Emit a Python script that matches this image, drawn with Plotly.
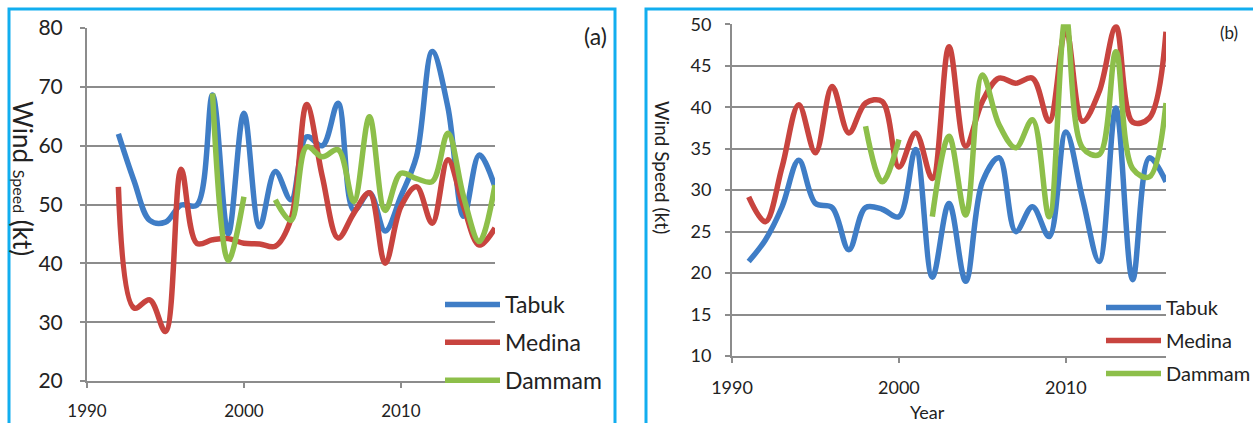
import plotly.graph_objects as go

# ---- data: annual maximum wind speed (kt) ----
years = list(range(1991, 2017))

# panel (a)
years_a = list(range(1992, 2017))
tabuk_a = [62, 54, 47.3, 47, 49.9, 49.9, 68.6, 45, 65.5, 46.2, 55.6, 50.8, 61.5,
           60, 67.2, 49, 52, 45.5, 51.4, 58.2, 76, 66.5, 48, 58.4, 53]
medina_a = [53, 32.4, 33.8, 28.4, 56, 43.4, 44, 44.2, 43.4, 43.3, 42.9, 47.5, 67,
            54.7, 44.3, 48.5, 52, 40, 49.6, 53, 46.8, 57.6, 49.6, 43.1, 46]
dammam_a = [None, None, None, None, None, None, 68.9, 40.5, 51.3, None, 50.8, 47.3, 59.8,
            58.1, 59.3, 50.5, 64.9, 49, 55.3, 54.4, 53.9, 62.1, 51.3, 43.7, 53.3]

# panel (b)
years_b = years
tabuk_b = [21.4, 24, 28, 33.6, 28.4, 27.9, 22.8, 27.9, 27.7, 26.8, 34.9, 19.5, 28.4,
           19, 31, 33.9, 25, 28, 24.4, 37, 29, 21.4, 39.9, 19.2, 33.9, 31]
medina_b = [29.2, 26.2, 32.8, 40.3, 34.5, 42.5, 36.9, 40.5, 40.7, 32.8, 36.9, 31.4, 47.3,
            35.3, 40.7, 43.5, 42.9, 43.5, 38.3, 49.4, 38.3, 41.9, 49.7, 38.2, 38.7, 49.1]
dammam_b = [None, None, None, None, None, None, None, 37.7, 31, 36.1, None, 26.8, 36.5,
            27, 43.9, 37.9, 35.1, 38.5, 26.8, 51, 35.1, 34.3, 46.7, 32.6, 31.6, 40.5]

series_names = ["Tabuk", "Medina", "Dammam"]
colors = ["#3F7DC6", "#C8443F", "#8DBF4A"]

W, H = 1253, 423
FONT = "Lato"
GRID = "#8C8C8C"
TEXT = "#222222"


def px_x(p):
    return p / W


def px_y(p):
    return 1 - p / H


fig = go.Figure()

for name, col, ys in zip(series_names, colors, [tabuk_a, medina_a, dammam_a]):
    fig.add_trace(go.Scatter(
        x=years_a, y=ys, name=name, mode="lines",
        line=dict(color=col, width=5.5, shape="spline", smoothing=1.0),
        connectgaps=False, xaxis="x", yaxis="y", legend="legend",
        legendgroup="a" + name,
    ))

for name, col, ys in zip(series_names, colors, [tabuk_b, medina_b, dammam_b]):
    fig.add_trace(go.Scatter(
        x=years_b, y=ys, name=name, mode="lines",
        line=dict(color=col, width=5.5, shape="spline", smoothing=1.0),
        connectgaps=False, xaxis="x2", yaxis="y2", legend="legend2",
        legendgroup="b" + name,
    ))

common_x = dict(range=[1990, 2016], tick0=1990, dtick=10, showgrid=False,
                zeroline=False, showline=True, linecolor=GRID, linewidth=2,
                ticks="outside", ticklen=5, tickcolor=GRID, tickwidth=2,
                ticklabelstandoff=9)
common_y = dict(showgrid=True, gridcolor=GRID, gridwidth=2, zeroline=False,
                showline=True, linecolor=GRID, linewidth=2,
                ticks="outside", ticklen=5, tickcolor=GRID, tickwidth=2)

fig.update_layout(
    width=W, height=H,
    margin=dict(l=0, r=0, t=0, b=0, autoexpand=False),
    paper_bgcolor="white", plot_bgcolor="white",
    font=dict(family=FONT, color=TEXT),
    xaxis=dict(**common_x, domain=[px_x(87), px_x(495)], anchor="y",
               tickfont=dict(size=17, family=FONT)),
    yaxis=dict(**common_y, domain=[px_y(381), px_y(28)], anchor="x",
               range=[20, 80], dtick=10, tickfont=dict(size=21, family=FONT),
               ticklabelstandoff=13),
    xaxis2=dict(**common_x, domain=[px_x(732), px_x(1166)], anchor="y2",
                tickfont=dict(size=18, family=FONT)),
    yaxis2=dict(**common_y, domain=[px_y(356), px_y(24.3)], anchor="x2",
                range=[10, 50], dtick=5, tickfont=dict(size=18, family=FONT),
                ticklabelstandoff=10),
    legend=dict(x=px_x(440), y=px_y(283), xanchor="left", yanchor="top",
                bgcolor="rgba(0,0,0,0)", font=dict(size=23, family=FONT),
                itemwidth=55, tracegroupgap=5, traceorder="grouped"),
    legend2=dict(x=px_x(1101), y=px_y(288), xanchor="left", yanchor="top",
                 bgcolor="rgba(0,0,0,0)", font=dict(size=20, family=FONT),
                 itemwidth=55, tracegroupgap=4, traceorder="grouped"),
    showlegend=True,
)

# panel frames
fig.add_shape(type="rect", xref="paper", yref="paper",
              x0=px_x(9), x1=px_x(615), y0=-0.05, y1=px_y(9),
              line=dict(color="#12AEEF", width=3), fillcolor="rgba(0,0,0,0)")
fig.add_shape(type="rect", xref="paper", yref="paper",
              x0=px_x(646), x1=1.05, y0=-0.05, y1=px_y(9),
              line=dict(color="#12AEEF", width=3), fillcolor="rgba(0,0,0,0)")

# axis titles and panel tags
fig.add_annotation(xref="paper", yref="paper", x=px_x(23), y=px_y(178),
                   text="Wind <span style='font-size:16px'>Speed</span> (kt)",
                   textangle=90, showarrow=False, xanchor="center", yanchor="middle",
                   font=dict(size=26, family=FONT, color=TEXT))
fig.add_annotation(xref="paper", yref="paper", x=px_x(663), y=px_y(167),
                   text="Wind Speed (kt)", textangle=90, showarrow=False,
                   xanchor="center", yanchor="middle",
                   font=dict(size=19, family=FONT, color=TEXT))
fig.add_annotation(xref="paper", yref="paper", x=px_x(927), y=px_y(412),
                   text="Year", showarrow=False, xanchor="center", yanchor="middle",
                   font=dict(size=18, family=FONT, color=TEXT))
fig.add_annotation(xref="paper", yref="paper", x=px_x(595), y=px_y(36),
                   text="(a)", showarrow=False, xanchor="center", yanchor="middle",
                   font=dict(size=23, family=FONT, color=TEXT))
fig.add_annotation(xref="paper", yref="paper", x=px_x(1229), y=px_y(32),
                   text="(b)", showarrow=False, xanchor="center", yanchor="middle",
                   font=dict(size=17, family=FONT, color=TEXT))

fig.write_html("out.html")
